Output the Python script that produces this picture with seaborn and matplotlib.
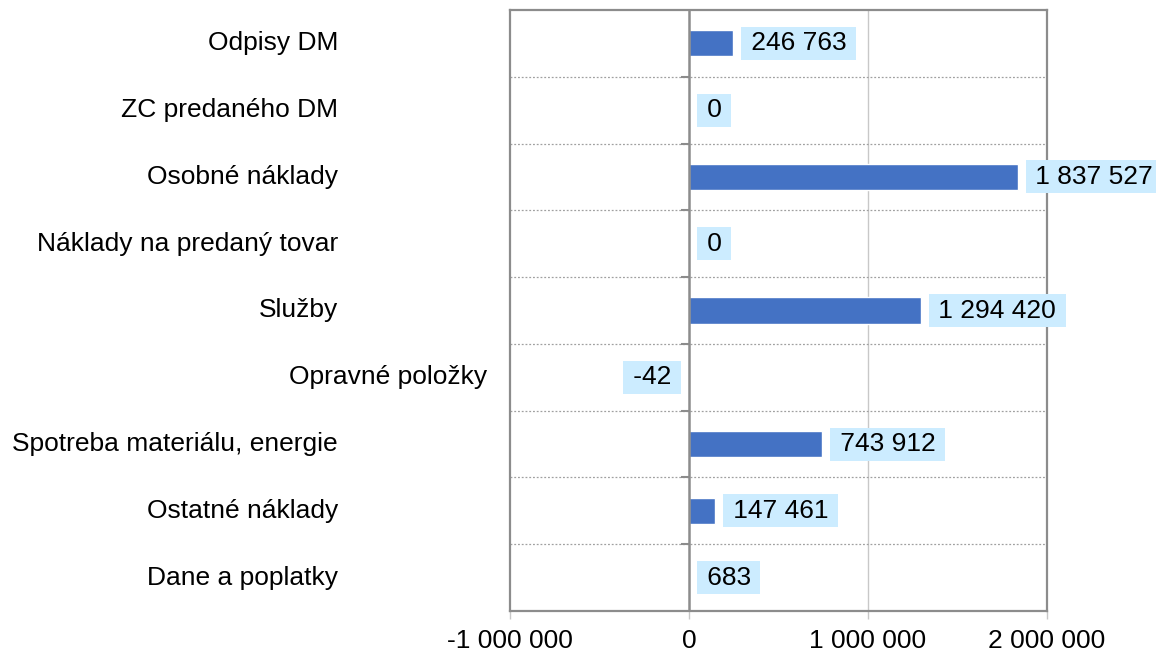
import matplotlib
matplotlib.use("Agg")
import matplotlib.pyplot as plt
import matplotlib.transforms as mtransforms
from matplotlib.ticker import FuncFormatter
import seaborn as sns
import pandas as pd

categories = ["Odpisy DM", "ZC predaného DM", "Osobné náklady", "Náklady na predaný tovar",
              "Služby", "Opravné položky", "Spotreba materiálu, energie", "Ostatné náklady",
              "Dane a poplatky"]
values = [246763, 0, 1837527, 0, 1294420, -42, 743912, 147461, 683]
x_ticks = [-1000000, 0, 1000000, 2000000]

sns.set_theme(style="white")
plt.rcParams['font.family'] = ['Liberation Sans', 'DejaVu Sans']
plt.rcParams['text.color'] = 'black'

FS = 19
fig = plt.figure(figsize=(11.56, 6.54), dpi=100)
ax = fig.add_axes([510/1156, 1 - 611/654, 537/1156, 601/654])

df = pd.DataFrame({"cat": categories, "val": values})
sns.barplot(data=df, x="val", y="cat", orient="h", color="#4472C4", saturation=1,
            width=0.39, ax=ax, zorder=3)

ax.set_xlim(x_ticks[0], x_ticks[-1])
ax.set_ylim(len(categories) - 0.5, -0.5)
ax.set_xticks(x_ticks)
fmt = lambda v, p: f"{int(v):,}".replace(",", " ")
ax.xaxis.set_major_formatter(FuncFormatter(fmt))
ax.tick_params(axis="x", labelsize=FS, length=6, width=1, color="#C8C8C8", pad=7,
               bottom=True, labelcolor="black")
ax.set_yticks([])
ax.set_xlabel("")
ax.set_ylabel("")

for s in ax.spines.values():
    s.set_color("#8C8C8C")
    s.set_linewidth(1.6)

# grid lines
ax.axvline(1000000, color="#C8C8C8", lw=1, zorder=1)
ax.axvline(0, color="#8C8C8C", lw=1.8, zorder=4)
bounds = [i + 0.5 for i in range(len(categories) - 1)]
for b in bounds:
    ax.axhline(b, color="#A0A0A0", lw=0.9, ls=(0, (1.5, 1.5)), zorder=1)
ax.hlines(bounds, -45000, 0, color="#8C8C8C", lw=1.5, zorder=4)

# value labels
TS = "\u2009"
for i, v in enumerate(values):
    txt = TS + f"{v:,}".replace(",", " ") + TS
    if v < 0:
        ax.annotate(txt, xy=(v, i), xytext=(-9, 0), textcoords="offset points",
                    ha="right", va="center", fontsize=FS, zorder=5, color="black",
                    bbox=dict(boxstyle="square,pad=0.17", fc="#CCECFF", ec="none"))
    else:
        ax.annotate(txt, xy=(v, i), xytext=(9, 0), textcoords="offset points",
                    ha="left", va="center", fontsize=FS, zorder=5, color="black",
                    bbox=dict(boxstyle="square,pad=0.17", fc="#CCECFF", ec="none"))

# category labels
trans = mtransforms.blended_transform_factory(fig.transFigure, ax.transData)
for i, (c, v) in enumerate(zip(categories, values)):
    xpos = 487/1156 if v < 0 else 338/1156
    ax.text(xpos, i, c, transform=trans, ha="right", va="center", fontsize=FS,
            color="black", clip_on=False)

fig.savefig("out.png", dpi=100)
